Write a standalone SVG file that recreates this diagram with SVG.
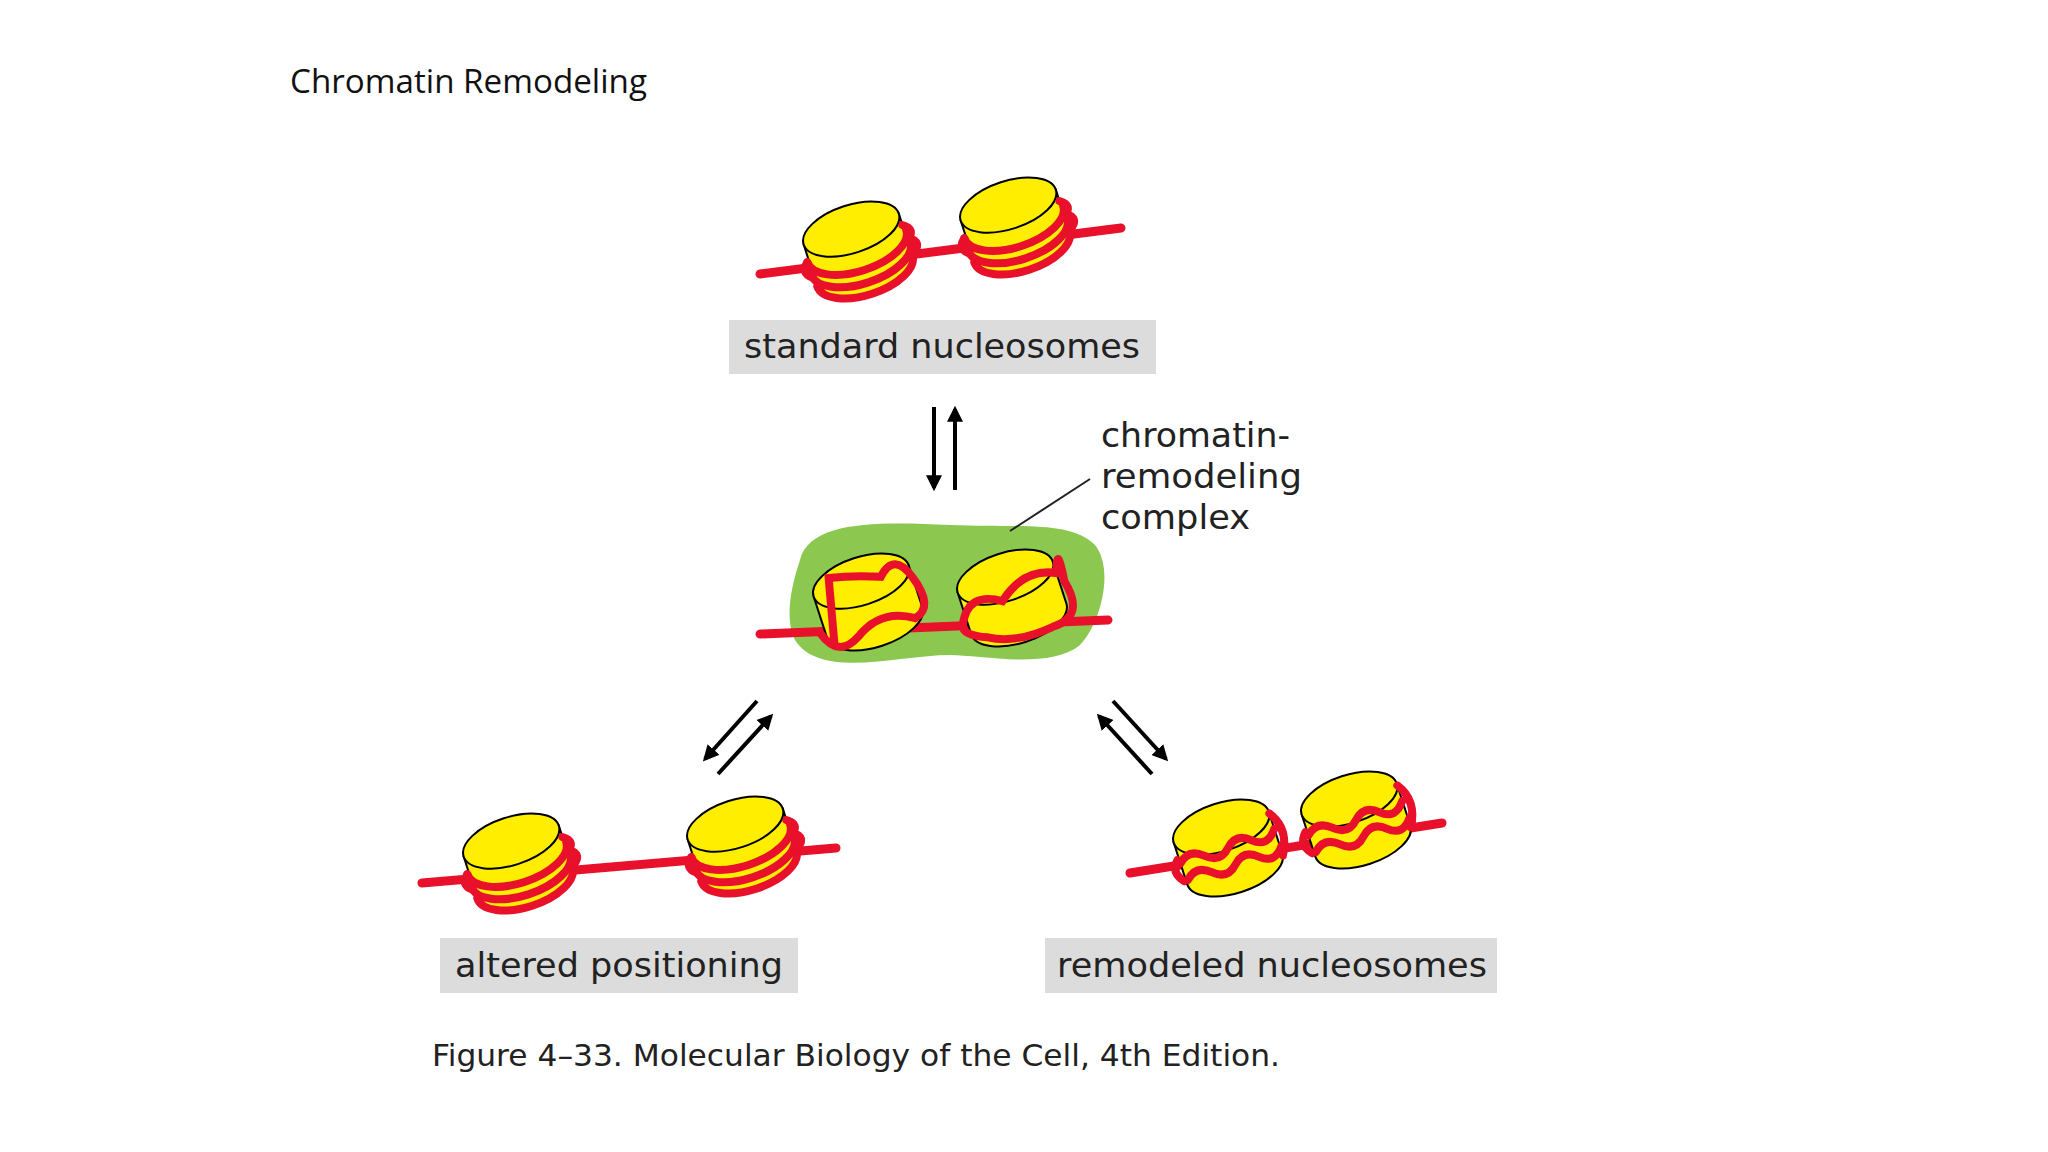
<svg xmlns="http://www.w3.org/2000/svg" width="2048" height="1152" viewBox="0 0 2048 1152">
<style>
.t{font-family:"DejaVu Sans","Liberation Sans",sans-serif;fill:#222}
.lbl{font-size:33px}
.box{fill:#dcdcdc}
.dna{stroke:#e8102a;stroke-width:9;fill:none;stroke-linecap:round}
.band{stroke:#e8102a;stroke-width:8;fill:none;stroke-linecap:round}
.yl{fill:#ffee00;stroke:#000;stroke-width:2}
.arr{stroke:#000;stroke-width:4;fill:none}
</style>
<defs>
<marker id="ah" viewBox="0 0 10 10" refX="8" refY="5" markerWidth="4" markerHeight="4" orient="auto"><path d="M0,0 L10,5 L0,10 Z" fill="#000"/></marker>
<g id="nuc">
<path class="yl" d="M-50,-22 L-50,22 A50 24 0 0 0 50 22 L50 -22 Z"/>
<ellipse class="yl" cx="0" cy="-22" rx="50" ry="24"/>
<path class="band" d="M-52,-4 A52 25 0 0 0 52 -4"/>
<path class="band" d="M-52,9 A52 25 0 0 0 52 9"/>
<path class="band" d="M-50,22 A50 24 0 0 0 50 22"/>
<path class="band" d="M50,-10 q12,8 0,16 M52,4 q12,8 0,16 M-52,-4 q-10,8 0,16"/>
</g>
<g id="nucw">
<path class="yl" d="M-50,-22 L-50,22 A50 24 0 0 0 50 22 L50 -22 Z"/>
<ellipse class="yl" cx="0" cy="-22" rx="50" ry="24"/>
<path class="band" d="M-50,0 q12,-12 25,0 t25,0 t25,0 t25,-4"/>
<path class="band" d="M-48,18 q12,-12 25,0 t25,0 t25,0 t25,-4"/>
<path class="band" d="M50,-20 q14,20 0,44 M-52,-4 q-10,10 0,22"/>
</g>
</defs>
<rect width="2048" height="1152" fill="#fff"/>
<text x="290" y="93" font-size="33" fill="#111" font-family="'Open Sans','Liberation Sans',sans-serif" textLength="357" lengthAdjust="spacingAndGlyphs">Chromatin Remodeling</text>

<g id="standard">
<line class="dna" x1="760" y1="274" x2="1121" y2="228"/>
<use href="#nuc" transform="translate(858,250) rotate(-18)"/>
<use href="#nuc" transform="translate(1015,226) rotate(-18)"/>
<rect class="box" x="729" y="320" width="427" height="54"/>
<text class="t lbl" x="744" y="358" textLength="396" lengthAdjust="spacingAndGlyphs">standard nucleosomes</text>
</g>

<g id="complex">
<path d="M800,560 C810,520 880,522 950,525 C1020,528 1070,520 1095,545 C1115,570 1100,625 1080,645 C1050,670 980,655 950,655 C900,655 820,680 795,640 C785,620 790,590 800,560 Z" fill="#8cc850"/>
<line class="dna" x1="760" y1="634" x2="1108" y2="620"/>
<g transform="translate(868,602) rotate(-18)">
<path class="yl" d="M-50,-22 L-50,22 A50 24 0 0 0 50 22 L50 -22 Z"/>
<ellipse class="yl" cx="0" cy="-22" rx="50" ry="24"/>
<path class="band" d="M-45,30 L-30,-35 Q-5,-30 20,-20 Q40,-40 50,-10 Q62,25 40,30 Q10,10 -20,30 Q-45,45 -55,15"/>
</g>
<g transform="translate(1012,598) rotate(-18)">
<path class="yl" d="M-50,-22 L-50,22 A50 24 0 0 0 50 22 L50 -22 Z"/>
<ellipse class="yl" cx="0" cy="-22" rx="50" ry="24"/>
<path class="band" d="M-55,10 Q-40,-20 -10,0 Q20,-25 50,-10 Q60,-40 55,0 Q65,40 30,40 Q-10,45 -35,30 Q-60,20 -55,10"/>
</g>
<text class="t lbl" x="1101" y="447" textLength="189" lengthAdjust="spacingAndGlyphs">chromatin-</text>
<text class="t lbl" x="1101" y="488" textLength="201" lengthAdjust="spacingAndGlyphs">remodeling</text>
<text class="t lbl" x="1101" y="529" textLength="149" lengthAdjust="spacingAndGlyphs">complex</text>
</g>

<g id="altered">
<line class="dna" x1="422" y1="883" x2="836" y2="848"/>
<use href="#nuc" transform="translate(518,862) rotate(-18)"/>
<use href="#nuc" transform="translate(742,845) rotate(-18)"/>
<rect class="box" x="440" y="938" width="358" height="55"/>
<text class="t lbl" x="455" y="977" textLength="328" lengthAdjust="spacingAndGlyphs">altered positioning</text>
</g>

<g id="remodeled">
<line class="dna" x1="1130" y1="873" x2="1442" y2="823"/>
<use href="#nucw" transform="translate(1228,848) rotate(-18)"/>
<use href="#nucw" transform="translate(1356,820) rotate(-18)"/>
<rect class="box" x="1045" y="938" width="452" height="55"/>
<text class="t lbl" x="1057" y="977" textLength="430" lengthAdjust="spacingAndGlyphs">remodeled nucleosomes</text>
</g>

<g id="connectors">
<line class="arr" x1="934" y1="407" x2="934" y2="488" marker-end="url(#ah)"/>
<line class="arr" x1="955" y1="490" x2="955" y2="409" marker-end="url(#ah)"/>
<line class="arr" x1="757" y1="701" x2="705" y2="759" marker-end="url(#ah)"/>
<line class="arr" x1="718" y1="774" x2="771" y2="716" marker-end="url(#ah)"/>
<line class="arr" x1="1113" y1="701" x2="1166" y2="759" marker-end="url(#ah)"/>
<line class="arr" x1="1152" y1="774" x2="1099" y2="716" marker-end="url(#ah)"/>
<line x1="1090" y1="479" x2="1010" y2="531" stroke="#222" stroke-width="2"/>
</g>

<text class="t" x="432" y="1066" font-size="31" textLength="848" lengthAdjust="spacingAndGlyphs">Figure 4–33. Molecular Biology of the Cell, 4th Edition.</text>
</svg>
